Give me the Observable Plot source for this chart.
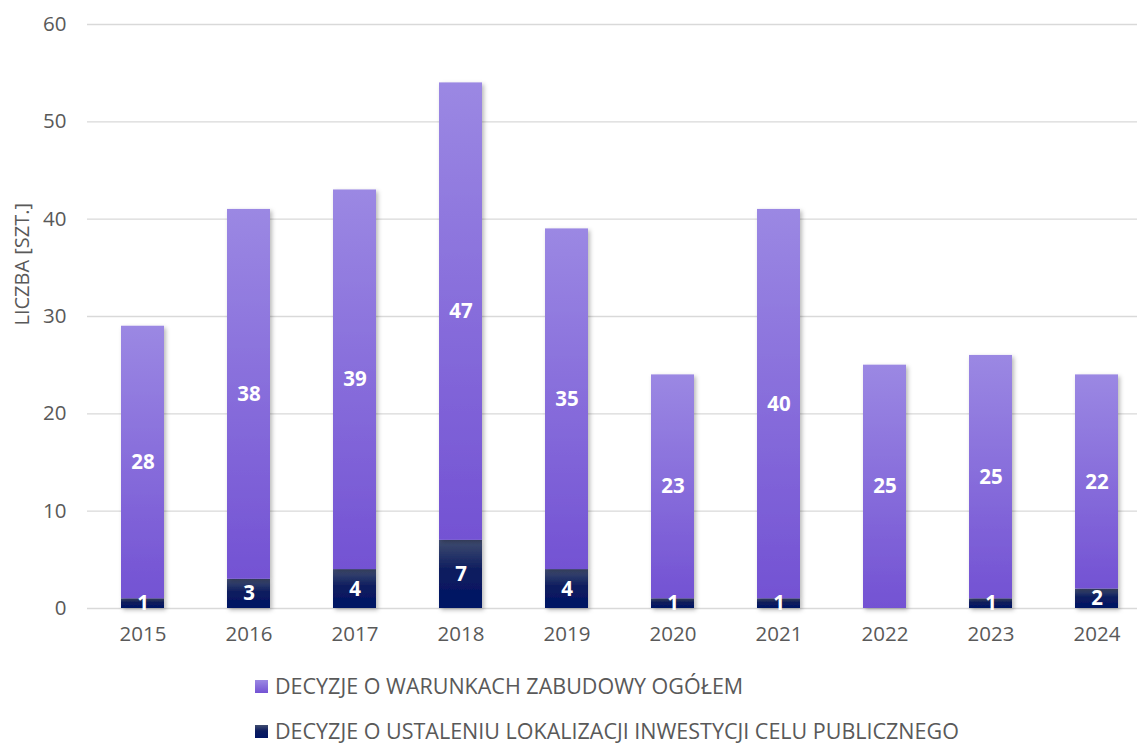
<!DOCTYPE html>
<html>
<head>
<meta charset="utf-8">
<script src="https://cdn.jsdelivr.net/npm/d3@7"></script>
<script src="https://cdn.jsdelivr.net/npm/@observablehq/plot@0.6"></script>
<style>
  body { margin: 0; background: #fff; font-family: "Open Sans", sans-serif; }
  #chart { position: relative; width: 1137px; height: 745px; overflow: hidden; }
  #chart svg { position: absolute; left: 0; top: 0; }
  .legend { position: absolute; left: 255px; font-size: 21.5px; line-height: 24px; color: #595959; display: flex; align-items: center; white-space: nowrap; }
  .sw { width: 13px; height: 13px; margin-right: 7px; }
</style>
</head>
<body>
<div id="chart"></div>
<script>
// Annual counts of planning decisions
const years = ["2015", "2016", "2017", "2018", "2019", "2020", "2021", "2022", "2023", "2024"];
const warunkiZabudowy = [28, 38, 39, 47, 35, 23, 40, 25, 25, 22];
const celPubliczny = [1, 3, 4, 7, 4, 1, 1, 0, 1, 2];
const yTicks = [0, 10, 20, 30, 40, 50, 60];
const seriesNames = [
  "DECYZJE O WARUNKACH ZABUDOWY OGÓŁEM",
  "DECYZJE O USTALENIU LOKALIZACJI INWESTYCJI CELU PUBLICZNEGO"
];
const yLabel = "LICZBA [SZT.]";

const rows = years.map((year, i) => ({
  year,
  wz: warunkiZabudowy[i],
  ulic: celPubliczny[i],
  top: celPubliczny[i] + warunkiZabudowy[i]
}));

const textColor = "#595959";
const font = "Open Sans, sans-serif";

const chart = Plot.plot({
  width: 1137,
  height: 660,
  marginLeft: 87,
  marginRight: 0,
  marginTop: 24,
  marginBottom: 52,
  style: { fontFamily: font, background: "transparent" },
  x: { domain: years, range: [87, 1152], paddingInner: 0.595, paddingOuter: 0.2975, label: null },
  y: { domain: [0, 60], label: null },
  marks: [
    Plot.ruleY(yTicks, { stroke: "#d9d9d9", strokeWidth: 1.3 }),
    Plot.axisY({ ticks: yTicks, tickSize: 0, tickPadding: 21, fontSize: 20.5, fill: textColor, label: null }),
    Plot.axisX({ tickSize: 0, tickPadding: 18, fontSize: 20.5, fill: textColor, label: null }),
    Plot.text([yLabel], { frameAnchor: "left", dx: -65, dy: 9, rotate: -90, fontSize: 20, fill: textColor }),
    // lower segment: public-purpose location decisions
    Plot.barY(rows, { x: "year", y1: 0, y2: "ulic", fill: "url(#navyGrad)" }),
    // upper segment: zoning decisions
    Plot.barY(rows, { x: "year", y1: "ulic", y2: "top", fill: "url(#purpleGrad)" }),
    Plot.text(rows, { x: "year", y: d => d.ulic + d.wz / 2, text: d => String(d.wz), fill: "white", fontWeight: "bold", fontSize: 20.5 }),
    Plot.text(rows.filter(d => d.ulic > 0), { x: "year", y: d => d.ulic / 2, text: d => String(d.ulic), fill: "white", fontWeight: "bold", fontSize: 20.5 })
  ]
});

const svg = d3.select(chart);
const defs = svg.insert("defs", ":first-child");
const purple = defs.append("linearGradient").attr("id", "purpleGrad").attr("x1", 0).attr("y1", 0).attr("x2", 0).attr("y2", 1);
purple.append("stop").attr("offset", 0).attr("stop-color", "#9b88e3");
purple.append("stop").attr("offset", 1).attr("stop-color", "#7352d3");
const navy = defs.append("linearGradient").attr("id", "navyGrad").attr("x1", 0).attr("y1", 0).attr("x2", 0).attr("y2", 1);
navy.append("stop").attr("offset", 0).attr("stop-color", "#414d70");
navy.append("stop").attr("offset", 0.45).attr("stop-color", "#0c1c5f");
navy.append("stop").attr("offset", 1).attr("stop-color", "#011565");
const shadow = defs.append("filter").attr("id", "barShadow").attr("x", "-20%").attr("y", "-5%").attr("width", "150%").attr("height", "115%");
shadow.append("feDropShadow").attr("dx", 2).attr("dy", 2).attr("stdDeviation", 2).attr("flood-color", "#000").attr("flood-opacity", 0.28);
svg.selectAll("g[aria-label='bar']").attr("filter", "url(#barShadow)");

const host = document.getElementById("chart");
host.appendChild(chart);

// legend below the plot
const legendItems = [
  { name: seriesNames[0], grad: "linear-gradient(#9b88e3, #7352d3)", top: 674 },
  { name: seriesNames[1], grad: "linear-gradient(#414d70, #0c1c5f 45%, #011565)", top: 719 }
];
for (const item of legendItems) {
  const row = document.createElement("div");
  row.className = "legend";
  row.style.top = item.top + "px";
  const sw = document.createElement("span");
  sw.className = "sw";
  sw.style.background = item.grad;
  const label = document.createElement("span");
  label.textContent = item.name;
  row.appendChild(sw);
  row.appendChild(label);
  host.appendChild(row);
}
</script>
</body>
</html>
